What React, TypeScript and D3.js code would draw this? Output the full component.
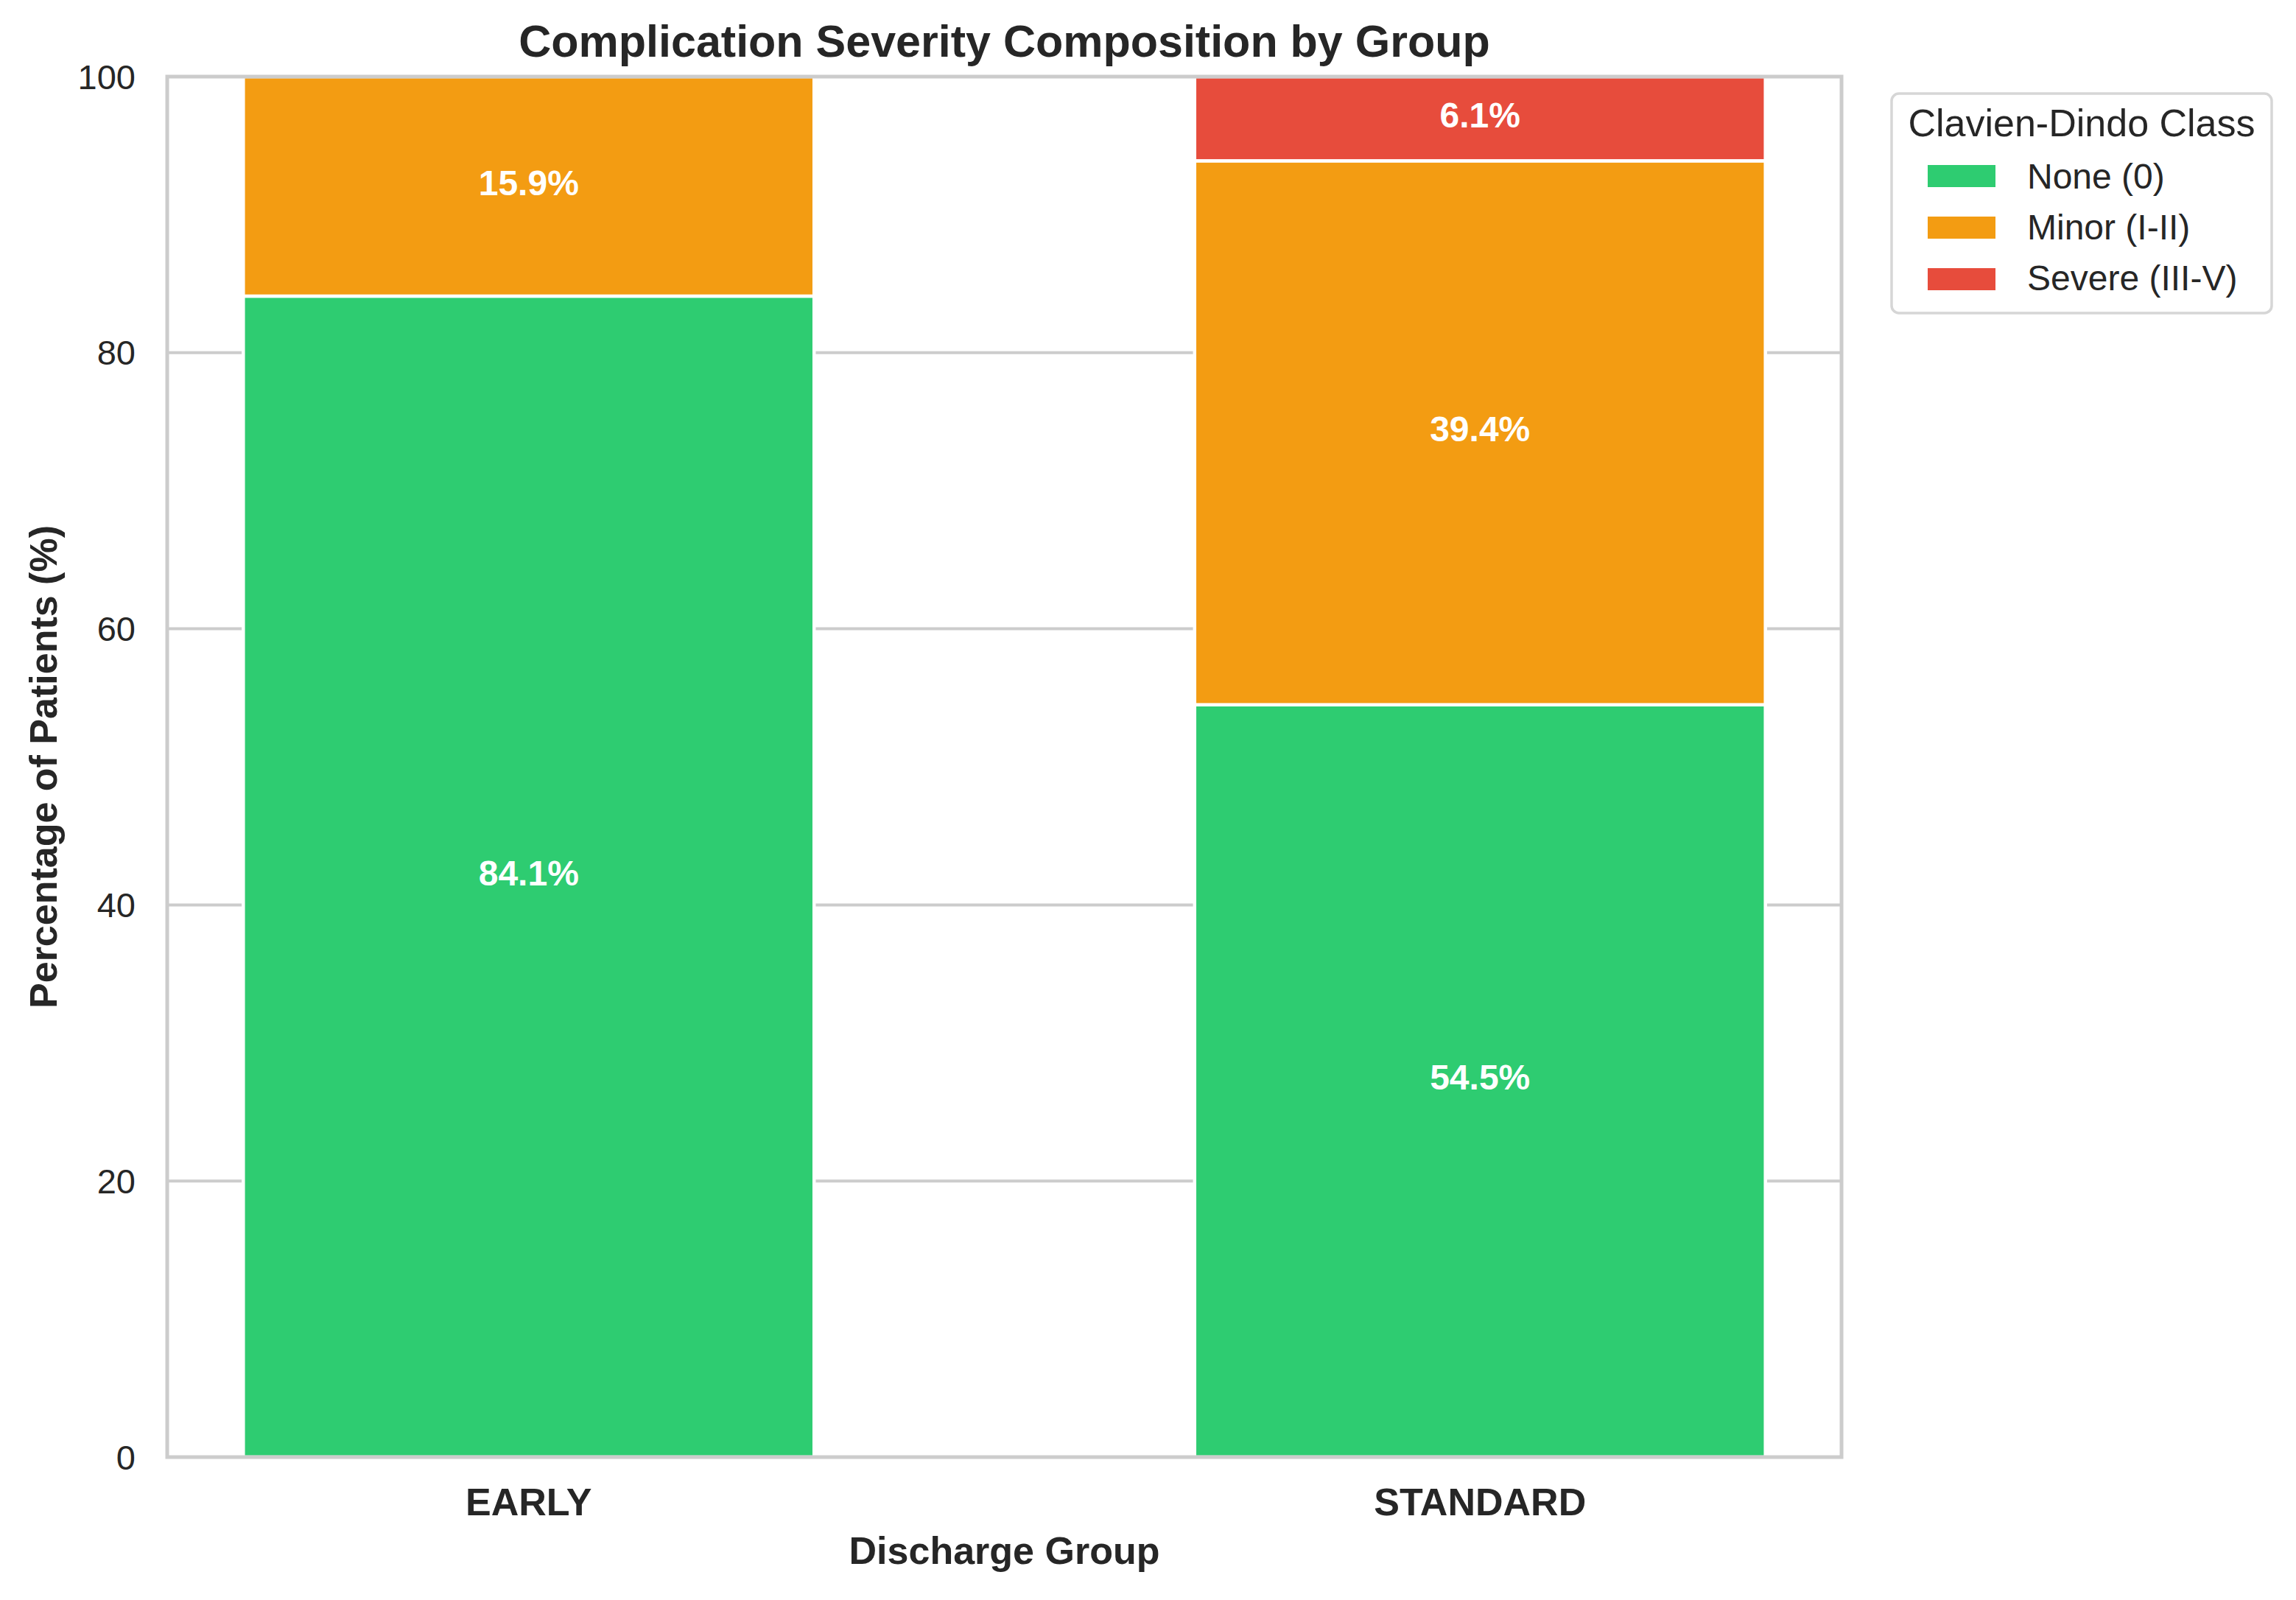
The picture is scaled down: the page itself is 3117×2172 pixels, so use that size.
import React from "react";
import * as d3 from "d3";

const categories = ["EARLY", "STANDARD"];
const seriesNames = ["None (0)", "Minor (I-II)", "Severe (III-V)"];
const noneValues = [84.1, 54.5];
const minorValues = [15.9, 39.4];
const severeValues = [0.0, 6.1];
const seriesColors = ["#2ecc71", "#f39c12", "#e74c3c"];
const yTicks = [0, 20, 40, 60, 80, 100];

const W = 3117;
const H = 2172;
const M = { left: 227, right: 2500, top: 104, bottom: 1978 };
const FONT = "'Liberation Sans', Arial, Helvetica, sans-serif";

export default function App() {
  const keys = ["none", "minor", "severe"];
  const rows = categories.map((c, i) => ({
    cat: c,
    none: noneValues[i],
    minor: minorValues[i],
    severe: severeValues[i],
  }));
  const stacked = d3.stack<any>().keys(keys)(rows);

  const x = d3
    .scaleBand<string>()
    .domain(categories)
    .range([M.left, M.right])
    .paddingInner(0.4)
    .paddingOuter(0.08);
  const y = d3.scaleLinear().domain([0, 100]).range([M.bottom, M.top]);

  const legendX = 2568;
  const legendY = 127;
  const legendW = 516;
  const legendH = 298;

  return (
    <svg
      width={W}
      height={H}
      viewBox={`0 0 ${W} ${H}`}
      style={{ position: "absolute", left: 0, top: 0, background: "#fff" }}
      fontFamily={FONT}
    >
      <rect x={0} y={0} width={W} height={H} fill="#ffffff" />
      {/* grid */}
      {yTicks.map((t) => (
        <line
          key={"g" + t}
          x1={M.left}
          x2={M.right}
          y1={y(t)}
          y2={y(t)}
          stroke="#cccccc"
          strokeWidth={4}
        />
      ))}
      {/* bars */}
      {stacked.map((layer, si) =>
        layer.map((d, ci) => {
          const v = d[1] - d[0];
          if (v <= 0) return null;
          const bx = x(categories[ci]) as number;
          return (
            <rect
              key={`b${si}-${ci}`}
              x={bx}
              y={y(d[1])}
              width={x.bandwidth()}
              height={y(d[0]) - y(d[1])}
              fill={seriesColors[si]}
              stroke="#ffffff"
              strokeWidth={4.5}
            />
          );
        })
      )}
      {/* bar labels */}
      {stacked.map((layer, si) =>
        layer.map((d, ci) => {
          const v = d[1] - d[0];
          if (v <= 0) return null;
          const cx = (x(categories[ci]) as number) + x.bandwidth() / 2;
          const cy = y((d[0] + d[1]) / 2);
          return (
            <text
              key={`l${si}-${ci}`}
              x={cx}
              y={cy + 12}
              textAnchor="middle"
              fill="#ffffff"
              fontWeight="bold"
              fontSize={48}
            >
              {v.toFixed(1) + "%"}
            </text>
          );
        })
      )}
      {/* spines */}
      <rect
        x={M.left}
        y={M.top}
        width={M.right - M.left}
        height={M.bottom - M.top}
        fill="none"
        stroke="#cccccc"
        strokeWidth={5}
      />
      {/* y tick labels */}
      {yTicks.map((t) => (
        <text
          key={"yt" + t}
          x={184}
          y={y(t) + 16.5}
          textAnchor="end"
          fontSize={47}
          fill="#262626"
        >
          {t}
        </text>
      ))}
      {/* x tick labels */}
      {categories.map((c) => (
        <text
          key={"xt" + c}
          x={(x(c) as number) + x.bandwidth() / 2}
          y={2057}
          textAnchor="middle"
          fontSize={52}
          fontWeight="bold"
          fill="#262626"
        >
          {c}
        </text>
      ))}
      {/* axis labels */}
      <text
        x={(M.left + M.right) / 2}
        y={2123}
        textAnchor="middle"
        fontSize={52}
        fontWeight="bold"
        fill="#262626"
      >
        Discharge Group
      </text>
      <text
        transform={`translate(77, ${(M.top + M.bottom) / 2}) rotate(-90)`}
        textAnchor="middle"
        fontSize={52}
        fontWeight="bold"
        fill="#262626"
      >
        Percentage of Patients (%)
      </text>
      {/* title */}
      <text
        x={(M.left + M.right) / 2}
        y={77}
        textAnchor="middle"
        fontSize={61}
        fontWeight="bold"
        fill="#262626"
      >
        Complication Severity Composition by Group
      </text>
      {/* legend */}
      <g>
        <rect
          x={legendX}
          y={legendY}
          width={legendW}
          height={legendH}
          rx={10}
          ry={10}
          fill="#ffffff"
          stroke="#d6d6d6"
          strokeWidth={3.5}
        />
        <text
          x={2826}
          y={185}
          textAnchor="middle"
          fontSize={52}
          fill="#262626"
        >
          Clavien-Dindo Class
        </text>
        {seriesNames.map((n, i) => (
          <g key={"lg" + i}>
            <rect
              x={2617}
              y={224 + i * 70}
              width={92}
              height={30}
              fill={seriesColors[i]}
            />
            <text x={2752} y={256 + i * 69} fontSize={48} fill="#262626">
              {n}
            </text>
          </g>
        ))}
      </g>
    </svg>
  );
}
